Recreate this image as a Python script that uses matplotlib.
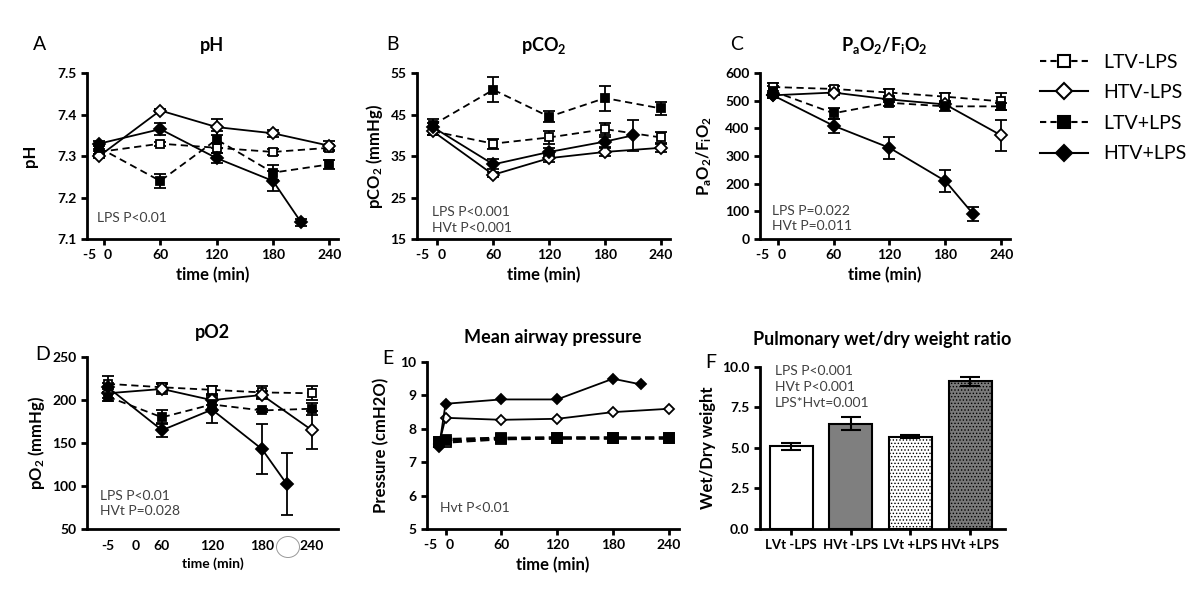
import numpy as np
import matplotlib
matplotlib.use("Agg")
import matplotlib.pyplot as plt
from matplotlib.lines import Line2D
from matplotlib.patches import Ellipse

plt.rcParams['font.family'] = ['Lato', 'DejaVu Sans']
plt.rcParams['mathtext.default'] = 'regular'
plt.rcParams['hatch.linewidth'] = 0.6

groups = ['LTV-LPS', 'HTV-LPS', 'LTV+LPS', 'HTV+LPS']

# time points (min); HTV+LPS ends at 210
t_main = [-5, 60, 120, 180, 240]
t_htv_lps = [-5, 60, 120, 180, 210]

# A: pH
ph_mean = {
    'LTV-LPS': [7.31, 7.33, 7.32, 7.31, 7.32],
    'HTV-LPS': [7.30, 7.41, 7.37, 7.355, 7.325],
    'LTV+LPS': [7.32, 7.24, 7.34, 7.26, 7.28],
    'HTV+LPS': [7.33, 7.365, 7.295, 7.24, 7.14],
}
ph_err = {
    'LTV-LPS': [0.006, 0.005, 0.012, 0.008, 0.006],
    'HTV-LPS': [0.005, 0.004, 0.02, 0.008, 0.012],
    'LTV+LPS': [0.008, 0.017, 0.02, 0.018, 0.01],
    'HTV+LPS': [0.006, 0.015, 0.012, 0.025, 0.008],
}

# B: pCO2
pco2_mean = {
    'LTV-LPS': [41, 38, 39.5, 41.5, 39.5],
    'HTV-LPS': [41, 30.5, 34.5, 36, 37],
    'LTV+LPS': [42.5, 51, 44.5, 49, 46.5],
    'HTV+LPS': [42, 33, 36, 38.5, 40],
}
pco2_err = {
    'LTV-LPS': [1.0, 1.2, 1.5, 1.5, 1.3],
    'HTV-LPS': [1.0, 0.6, 1.0, 1.0, 1.0],
    'LTV+LPS': [1.5, 3.0, 1.3, 3.0, 1.5],
    'HTV+LPS': [1.0, 1.2, 1.0, 1.2, 3.7],
}

# C: PaO2/FiO2
pf_mean = {
    'LTV-LPS': [550, 543, 530, 515, 498],
    'HTV-LPS': [520, 530, 505, 487, 375],
    'LTV+LPS': [535, 455, 493, 480, 480],
    'HTV+LPS': [520, 410, 330, 210, 90],
}
pf_err = {
    'LTV-LPS': [15, 12, 12, 15, 30],
    'HTV-LPS': [10, 10, 10, 10, 55],
    'LTV+LPS': [20, 20, 10, 15, 12],
    'HTV+LPS': [10, 25, 40, 40, 25],
}

# D: pO2
po2_mean = {
    'LTV-LPS': [219, 215, 212, 209, 208],
    'HTV-LPS': [208, 213, 200, 206, 165],
    'LTV+LPS': [204, 180, 195, 188, 190],
    'HTV+LPS': [215, 165, 189, 143, 102],
}
po2_err = {
    'LTV-LPS': [9, 5, 5, 7, 8],
    'HTV-LPS': [5, 6, 6, 5, 22],
    'LTV+LPS': [5, 8, 8, 2, 7],
    'HTV+LPS': [5, 8, 16, 29, 36],
}

# E: mean airway pressure (no error bars)
t_paw = [-7, 0, 60, 120, 180, 240]
t_paw_htv_lps = [-7, 0, 60, 120, 180, 210]
paw_mean = {
    'LTV-LPS': [7.6, 7.6, 7.7, 7.72, 7.72, 7.72],
    'HTV-LPS': [7.55, 8.33, 8.27, 8.3, 8.5, 8.6],
    'LTV+LPS': [7.62, 7.68, 7.72, 7.73, 7.73, 7.73],
    'HTV+LPS': [7.45, 8.75, 8.88, 8.88, 9.5, 9.33],
}

# F: wet/dry weight ratio
wd_labels = ['LVt -LPS', 'HVt -LPS', 'LVt +LPS', 'HVt +LPS']
wd_mean = [5.1, 6.5, 5.7, 9.1]
wd_err = [0.2, 0.4, 0.1, 0.3]

styles = {
    'LTV-LPS': dict(marker='s', mfc='white', ls='--', ms=6),
    'HTV-LPS': dict(marker='D', mfc='white', ls='-', ms=6),
    'LTV+LPS': dict(marker='s', mfc='black', ls='--', ms=6),
    'HTV+LPS': dict(marker='D', mfc='black', ls='-', ms=6),
}

label_font = dict(fontsize=12, fontweight='bold')
title_font = dict(fontsize=13, fontweight='bold')
note_color = '#404040'


def style_axes(ax):
    for s in ['top', 'right']:
        ax.spines[s].set_visible(False)
    for s in ['left', 'bottom']:
        ax.spines[s].set_linewidth(2)
    ax.tick_params(width=2, length=4, direction='out', labelsize=10)
    for lab in ax.get_xticklabels() + ax.get_yticklabels():
        lab.set_fontweight('bold')


def time_ticks(ax):
    ax.set_xticks([-5, 0, 60, 120, 180, 240])
    ax.set_xticklabels(['-5 ', '0', '60', '120', '180', '240'])
    labs = ax.get_xticklabels()
    labs[0].set_ha('right')
    labs[1].set_ha('left')
    ax.xaxis.get_major_ticks()[0].tick1line.set_visible(False)


def plot_series(ax, means, errs, times_main, times_last, lw=1.3):
    for g in groups:
        t = times_last if g == 'HTV+LPS' else times_main
        st = styles[g]
        ax.errorbar(t, means[g], yerr=errs[g], color='black',
                    marker=st['marker'], mfc=st['mfc'], mec='black', mew=1.3,
                    ms=st['ms'], ls=st['ls'], lw=lw, capsize=4, elinewidth=1.3,
                    capthick=1.3, dashes=(4, 2.5) if st['ls'] == '--' else (None, None))


fig = plt.figure(figsize=(12, 6.05), dpi=100)

# ---- A
axA = fig.add_axes([0.0725, 0.605, 0.209, 0.274])
plot_series(axA, ph_mean, ph_err, t_main, t_htv_lps)
axA.set_xlim(-18, 249)
axA.set_ylim(7.1, 7.5)
axA.set_yticks([7.1, 7.2, 7.3, 7.4, 7.5])
axA.set_yticklabels(['7.1', '7.2', '7.3', '7.4', '7.5'])
time_ticks(axA)
style_axes(axA)
axA.set_ylabel('pH', labelpad=14, **label_font)
axA.set_xlabel('time (min)', **label_font)
axA.set_title('pH', pad=16, **title_font)
axA.text(0.04, 0.1, 'LPS P<0.01', transform=axA.transAxes, fontsize=10, color=note_color)

# ---- B
axB = fig.add_axes([0.3475, 0.605, 0.211, 0.274])
plot_series(axB, pco2_mean, pco2_err, t_main, t_htv_lps)
axB.set_xlim(-22, 250)
axB.set_ylim(15, 55)
axB.set_yticks([15, 25, 35, 45, 55])
time_ticks(axB)
style_axes(axB)
axB.set_ylabel('pCO$_2$ (mmHg)', **label_font)
axB.set_xlabel('time (min)', **label_font)
axB.set_title('pCO$_2$', pad=16, **title_font)
axB.text(0.06, 0.14, 'LPS P<0.001', transform=axB.transAxes, fontsize=10, color=note_color)
axB.text(0.06, 0.045, 'HVt P<0.001', transform=axB.transAxes, fontsize=10, color=note_color)

# ---- C
axC = fig.add_axes([0.6333, 0.605, 0.208, 0.274])
plot_series(axC, pf_mean, pf_err, t_main, t_htv_lps)
axC.set_xlim(-19, 249)
axC.set_ylim(0, 600)
axC.set_yticks(np.arange(0, 601, 100))
time_ticks(axC)
style_axes(axC)
axC.set_ylabel('P$_a$O$_2$/F$_i$O$_2$', labelpad=8, **label_font)
axC.set_xlabel('time (min)', **label_font)
axC.set_title('P$_a$O$_2$/F$_i$O$_2$', pad=16, **title_font)
axC.text(0.05, 0.145, 'LPS P=0.022', transform=axC.transAxes, fontsize=10, color=note_color)
axC.text(0.05, 0.055, 'HVt P=0.011', transform=axC.transAxes, fontsize=10, color=note_color)

# ---- D
axD = fig.add_axes([0.0725, 0.1256, 0.209, 0.284])
plot_series(axD, po2_mean, po2_err, t_main, t_htv_lps)
axD.set_xlim(-30, 271)
axD.set_ylim(50, 250)
axD.set_yticks([50, 100, 150, 200, 250])
axD.set_xticks([-5, 29, 60, 120, 180, 240])
axD.set_xticklabels(['-5', '0', '60', '120', '180', '240'])
style_axes(axD)
axD.tick_params(axis='x', length=0, pad=8)
axD.set_ylabel('pO$_2$ (mmHg)', **label_font)
axD.set_xlabel('time (min)', fontsize=10, fontweight='bold')
axD.set_title('pO2', pad=14, **title_font)
axD.text(0.05, 0.17, 'LPS P<0.01', transform=axD.transAxes, fontsize=10, color=note_color)
axD.text(0.05, 0.08, 'HVt P=0.028', transform=axD.transAxes, fontsize=10, color=note_color)
fig.add_artist(Ellipse((288 / 1200, 1 - 547 / 605), 23 / 1200, 21 / 605,
                       transform=fig.transFigure, fill=False, ec='#999999', lw=0.7))

# ---- E
axE = fig.add_axes([0.3558, 0.1256, 0.21, 0.276])
for g in groups:
    t = t_paw_htv_lps if g == 'HTV+LPS' else t_paw
    st = styles[g]
    dashed = st['ls'] == '--'
    axE.plot(t, paw_mean[g], color='black', marker=st['marker'], mfc=st['mfc'],
             mec='black', mew=1.3, ms=5.5 if st['marker'] == 'D' else 6.5,
             ls=st['ls'], lw=2.2 if dashed else 1.3,
             dashes=(3, 1.5) if dashed else (None, None))
axE.set_xlim(-20, 251)
axE.set_ylim(5, 10)
axE.set_yticks([5, 6, 7, 8, 9, 10])
time_ticks(axE)
style_axes(axE)
axE.set_ylabel('Pressure (cmH2O)', labelpad=8, **label_font)
axE.set_xlabel('time (min)', **label_font)
axE.set_title('Mean airway pressure', pad=14, **title_font)
axE.text(0.05, 0.1, 'Hvt P<0.01', transform=axE.transAxes, fontsize=10, color=note_color)

# ---- F
axF = fig.add_axes([0.6333, 0.1256, 0.204, 0.268])
x = np.arange(len(wd_labels))
colors = ['white', '#7f7f7f', 'white', '#7a7a7a']
hatches = [None, None, '.....', '.....']
bars = axF.bar(x, wd_mean, width=0.72, color=colors, edgecolor='black', linewidth=1.5,
               yerr=wd_err, capsize=7, error_kw=dict(elinewidth=1.5, capthick=1.5))
for b, h in zip(bars, hatches):
    if h:
        b.set_hatch(h)
axF.set_xlim(-0.52, 3.58)
axF.set_ylim(0, 10)
axF.set_yticks([0, 2.5, 5, 7.5, 10])
axF.set_yticklabels(['0.0', '2.5', '5.0', '7.5', '10.0'])
axF.set_xticks(x)
axF.set_xticklabels(wd_labels)
style_axes(axF)
axF.tick_params(axis='x', labelsize=9.5)
axF.set_ylabel('Wet/Dry weight', **label_font)
axF.set_title('Pulmonary wet/dry weight ratio', pad=16, **title_font)
axF.text(0.06, 0.95, 'LPS P<0.001', transform=axF.transAxes, fontsize=10, color=note_color)
axF.text(0.06, 0.85, 'HVt P<0.001', transform=axF.transAxes, fontsize=10, color=note_color)
axF.text(0.06, 0.75, 'LPS*Hvt=0.001', transform=axF.transAxes, fontsize=10, color=note_color)

# panel letters
for lbl, (px, py) in zip('ABCDEF', [(40, 45), (393, 45), (737, 45),
                                     (43, 355), (388, 358), (711, 362)]):
    fig.text(px / 1200, 1 - py / 605, lbl, fontsize=14, ha='center', va='center')

# legend
handles = []
for g in groups:
    st = styles[g]
    handles.append(Line2D([], [], color='black', marker=st['marker'], mfc=st['mfc'],
                          mec='black', mew=1.5, ms=8, ls=st['ls'], lw=1.5,
                          dashes=(3, 2) if st['ls'] == '--' else (None, None)))
fig.legend(handles, groups, loc='upper left', bbox_to_anchor=(1022 / 1200, 1 - 36 / 605),
           frameon=False, fontsize=14, handlelength=2.5, labelspacing=0.7)

fig.savefig('out.png', dpi=100)
